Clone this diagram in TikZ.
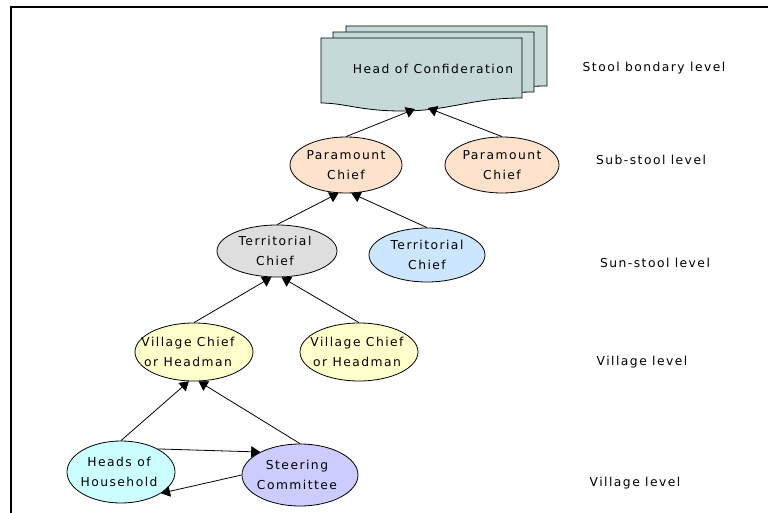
\documentclass[tikz,border=0pt]{standalone}
\usepackage{fontspec}
\setmainfont{DejaVu Sans}[LetterSpace=12]
\usetikzlibrary{arrows.meta,shapes.geometric}
\definecolor{docfill}{RGB}{197,217,217}
\definecolor{peach}{RGB}{255,226,204}
\definecolor{grayfill}{RGB}{222,222,222}
\definecolor{bluefill}{RGB}{204,230,255}
\definecolor{yellowfill}{RGB}{255,255,204}
\definecolor{cyanfill}{RGB}{204,255,255}
\definecolor{lavfill}{RGB}{204,204,255}
\tikzset{
  txt/.style={font=\fontsize{12.3}{20}\selectfont, align=center, inner sep=0pt},
  el/.style={ellipse, draw, line width=0.8pt, inner sep=0pt},
  conn/.style={line width=0.8pt, -{Triangle[length=9pt,width=11pt]}},
  sheet/.style={draw, line width=0.8pt, fill=docfill},
}
\newcommand{\docsheet}[2]{%
  \path[sheet] (321+#1,38+#2) -- (522+#1,38+#2) -- (522+#1,98+#2)
    .. controls (470+#1,98+#2) and (450+#1,111+#2) .. (402+#1,111+#2)
    .. controls (360+#1,111+#2) and (345+#1,103+#2) .. (321+#1,103+#2) -- cycle;}
\begin{document}
\begin{tikzpicture}[x=1pt,y=-1pt]
\useasboundingbox (0,0) rectangle (768,513);
\draw[line width=1.6pt] (11,513) -- (11,7) -- (768,7);
% document stack
\docsheet{25}{-12}
\docsheet{12}{-6}
\docsheet{0}{0}
\node[txt] (hc) at (433,69) {Head of Confideration};
\coordinate (hcL) at (415,109);
\coordinate (hcR) at (428,108);
% ellipses
\node[el, fill=peach, minimum width=112, minimum height=56,
  label={[txt]center:{Paramount\\Chief}}] (pc1) at (346,165) {};
\node[el, fill=peach, minimum width=114, minimum height=56,
  label={[txt]center:{Paramount\\Chief}}] (pc2) at (502,165) {};
\node[el, fill=grayfill, minimum width=120, minimum height=52,
  label={[txt, xshift=-2pt]center:{Territorial\\Chief}}] (tc1) at (277,251) {};
\node[el, fill=bluefill, minimum width=116, minimum height=54,
  label={[txt]center:{Territorial\\Chief}}] (tc2) at (427,255) {};
\node[el, fill=yellowfill, minimum width=118, minimum height=58,
  label={[txt, xshift=-6pt]center:{Village Chief\\or Headman}}] (vc1) at (194,352) {};
\node[el, fill=yellowfill, minimum width=118, minimum height=58,
  label={[txt, xshift=-2pt]center:{Village Chief\\or Headman}}] (vc2) at (359,352) {};
\node[el, fill=cyanfill, minimum width=108, minimum height=62,
  label={[txt, xshift=-2pt]center:{Heads of\\Household}}] (hh) at (121,472) {};
\node[el, fill=lavfill, minimum width=116, minimum height=62,
  label={[txt, xshift=-3pt]center:{Steering\\Committee}}] (sc) at (300,475) {};
% connectors
\draw[conn] (pc1.north) -- (hcL);
\draw[conn] (pc2.north) -- (hcR);
\draw[conn] (tc1.north) -- (pc1.-105);
\draw[conn] (tc2.north) -- (pc1.-79);
\draw[conn] (vc1.north) -- (tc1.-102);
\draw[conn] (vc2.north) -- (tc1.-80);
\draw[conn] (hh.north) -- (vc1.-100);
\draw[conn] (sc.north) -- (vc1.-81);
\draw[conn] (hh.32) -- (sc.150);
\draw[conn] (sc.180) -- (hh.-28);
% level labels
\node[txt] (l1) at (654,68) {Stool bondary level};
\node[txt] (l2) at (651,160) {Sub-stool level};
\node[txt] (l3) at (655,263) {Sun-stool level};
\node[txt] (l4) at (642,362) {Village level};
\node[txt] (l5) at (635,483) {Village level};
\end{tikzpicture}
\end{document}
